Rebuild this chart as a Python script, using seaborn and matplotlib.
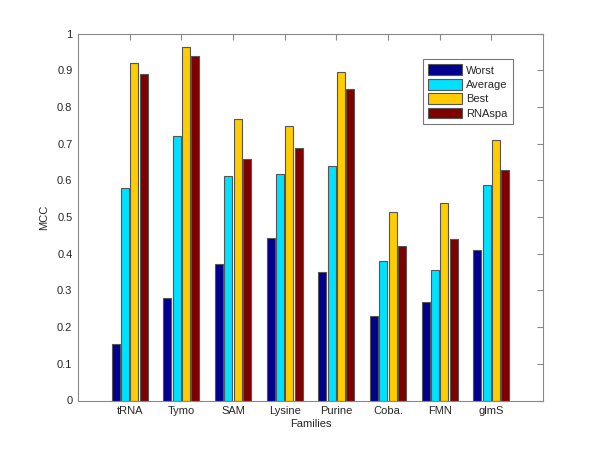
import matplotlib
matplotlib.use('Agg')
import matplotlib.pyplot as plt
import seaborn as sns
import pandas as pd

# ── Data ──────────────────────────────────────────────────────────────────────
families = ['tRNA', 'Tymo', 'SAM', 'Lysine', 'Purine', 'Coba.', 'FMN', 'glmS']
worst   = [0.154, 0.279, 0.373, 0.442, 0.350, 0.230, 0.269, 0.409]
average = [0.579, 0.721, 0.612, 0.618, 0.640, 0.381, 0.357, 0.588]
best    = [0.920, 0.963, 0.767, 0.749, 0.897, 0.514, 0.539, 0.711]
rnaspa  = [0.890, 0.939, 0.659, 0.689, 0.848, 0.420, 0.440, 0.629]
series = ['Worst', 'Average', 'Best', 'RNAspa']
colors = ['#00008f', '#00e0ff', '#ffcc00', '#800000']

df = pd.DataFrame({'Families': families, 'Worst': worst, 'Average': average,
                   'Best': best, 'RNAspa': rnaspa})
long = df.melt(id_vars='Families', value_vars=series, var_name='Method', value_name='MCC')

# ── Plot ──────────────────────────────────────────────────────────────────────
sns.set_style('white')
plt.rcParams['font.family'] = ['Liberation Sans', 'DejaVu Sans']

fig = plt.figure(figsize=(6, 4.5), dpi=100)
ax = fig.add_axes([0.13, 0.11, 0.775, 0.815])

sns.barplot(data=long, x='Families', y='MCC', hue='Method', order=families,
            hue_order=series, palette=colors, width=0.72, gap=0.16,
            edgecolor='#555555', linewidth=0.8, saturation=1, ax=ax)

ax.set_xlim(-1, 8)
ax.set_ylim(0, 1)
ax.set_yticks([i / 10 for i in range(11)])
ax.set_yticklabels(['0'] + [f'{i/10:.1f}' for i in range(1, 10)] + ['1'])
ax.set_xlabel('Families', fontsize=8, labelpad=2)
ax.set_ylabel('MCC', fontsize=8, labelpad=6)
ax.tick_params(axis='both', direction='in', labelsize=8, length=4, color='#888888',
               top=True, right=True, pad=4)
for s in ax.spines.values():
    s.set_visible(True)
    s.set_color('#888888')
    s.set_linewidth(0.8)

leg = ax.legend(loc='upper left', bbox_to_anchor=(0.731, 0.945), fontsize=8,
                frameon=True, fancybox=False, edgecolor='#555555',
                handlelength=3.0, handleheight=1.1, labelspacing=0.3,
                borderpad=0.45, handletextpad=0.4)
leg.get_frame().set_linewidth(0.8)

fig.savefig('out.png', dpi=100)
